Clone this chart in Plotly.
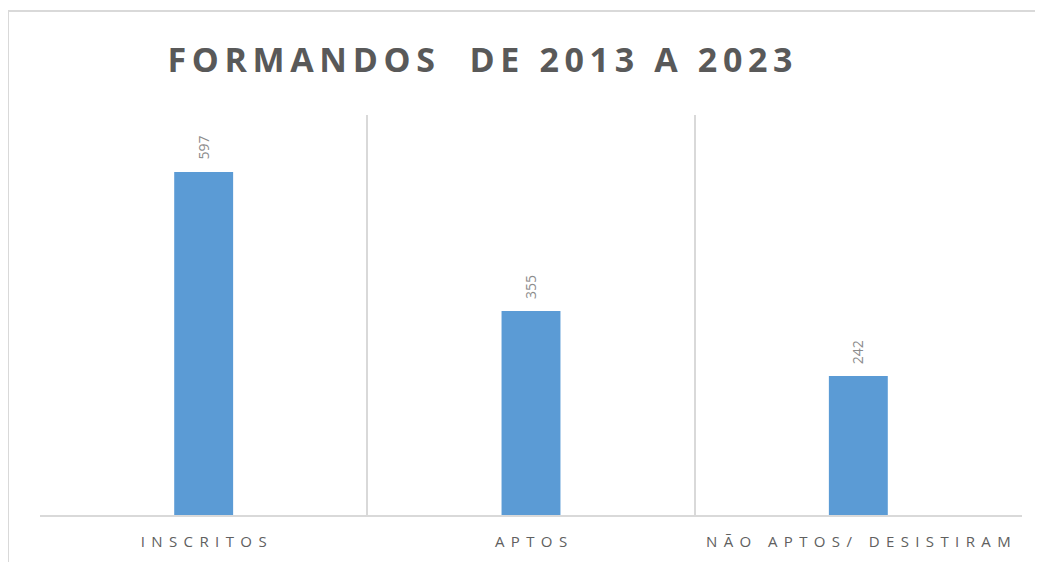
import plotly.graph_objects as go

categories = ["INSCRITOS", "APTOS", "NÃO APTOS/ DESISTIRAM"]
values = [597, 355, 242]
title_text = "FORMANDOS  DE 2013 A 2023"

def spaced(s, sep):
    return sep.join(list(s))

# page body has an 8px margin; compensate
OFF = 8
W, H = 1043 - OFF, 562 - OFF
ml, mr, mt, mb = 40 - OFF, 21, 115 - OFF, 47
pw = W - ml - mr
ph = H - mt - mb

xpos = list(range(len(categories)))

fig = go.Figure()
fig.add_trace(go.Bar(
    x=xpos, y=values, width=0.18,
    marker=dict(color="#5b9bd5", line=dict(width=0)),
    cliponaxis=False,
))

for xi, v in zip(xpos, values):
    fig.add_annotation(x=xi, y=v, xref="x", yref="y", text=str(v), showarrow=False,
                       textangle=-90, yanchor="bottom", yshift=10,
                       font=dict(family="Open Sans, Liberation Sans, sans-serif", size=14, color="#8c8c8c"))

fig.update_layout(
    width=W, height=H,
    margin=dict(l=ml, r=mr, t=mt, b=mb),
    paper_bgcolor="white", plot_bgcolor="white",
    showlegend=False,
    title=dict(text="<b>" + spaced(title_text, "\u2009") + "</b>",
               x=(480 - OFF) / W, xanchor="center", y=1 - (60 - OFF) / H, yanchor="middle",
               font=dict(family="Open Sans, Liberation Sans, sans-serif", size=34, color="#595959")),
    xaxis=dict(
        range=[-0.5, len(categories) - 0.5],
        tickmode="array", tickvals=xpos,
        ticktext=[spaced(c, " \u2009").replace("/ \u2009 \u2009 \u2009", "/ \u2009") for c in categories],
        tickfont=dict(family="Open Sans, Liberation Sans, sans-serif", size=15, color="#606060"),
        showgrid=False, zeroline=False, showline=True, linecolor="#d9d9d9", linewidth=2,
        ticks="", ticklabelstandoff=12,
        minor=dict(tickmode="array", tickvals=[-0.5, 0.5, 1.5, 2.5], showgrid=True,
                   gridcolor="#d9d9d9", gridwidth=1.5, ticks=""),
    ),
    yaxis=dict(range=[0, 696], showgrid=False, zeroline=False, showticklabels=False,
               showline=False, ticks=""),
    shapes=[dict(type="rect", xref="paper", yref="paper",
                 x0=-(40 - 8) / pw, x1=1.1, y0=-0.2, y1=(515 - 11) / ph,
                 line=dict(color="#d9d9d9", width=2), fillcolor="rgba(0,0,0,0)", layer="below")],
)

fig.write_html("out.html")
